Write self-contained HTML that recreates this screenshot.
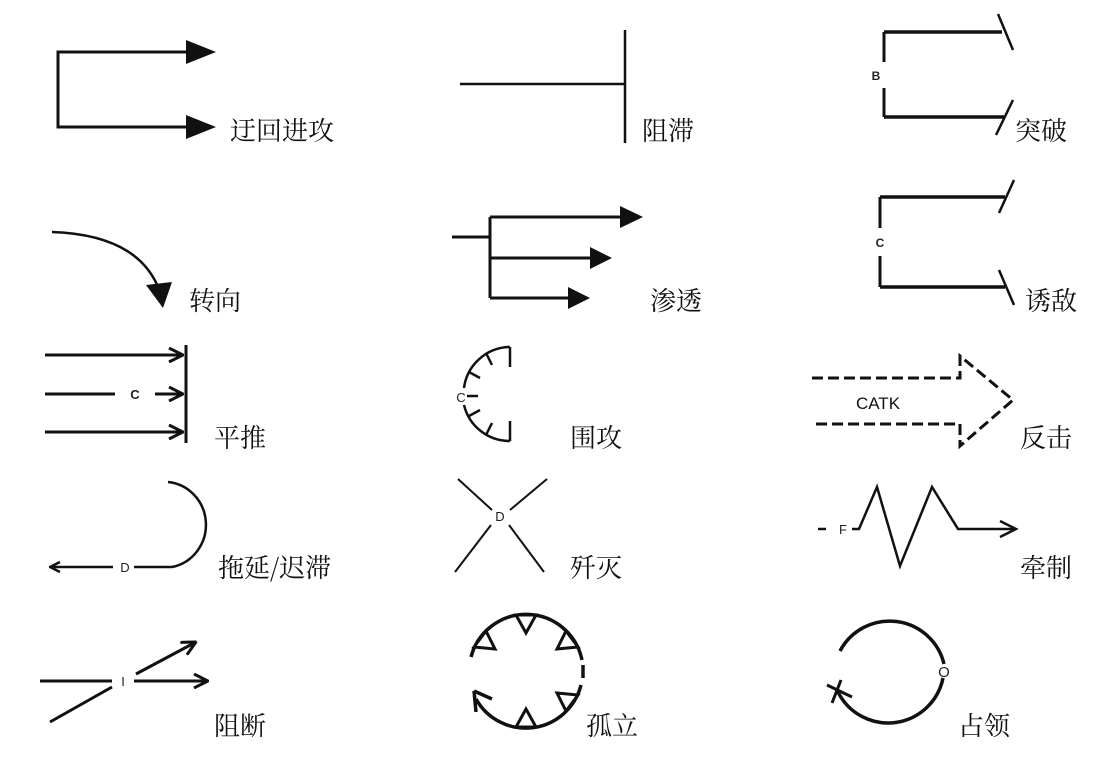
<!DOCTYPE html>
<html><head><meta charset="utf-8"><style>
html,body{margin:0;padding:0;background:#fff;}
svg{display:block}
.l{font-family:"Noto Serif CJK SC","Liberation Serif",serif;font-size:26px;fill:#111}
.s{font-family:"Liberation Sans",sans-serif;font-weight:bold;fill:#222}
</style></head><body>
<svg width="1109" height="767" viewBox="0 0 1109 767" xmlns="http://www.w3.org/2000/svg">
<defs>
<marker id="o" viewBox="0 0 12 12" refX="11" refY="6" markerWidth="12" markerHeight="12" markerUnits="userSpaceOnUse" orient="auto"><path d="M1,1 L11,6 L1,11" fill="none" stroke="#111" stroke-width="2.5"/></marker>
<marker id="ob" viewBox="0 0 16 16" refX="15" refY="8" markerWidth="16" markerHeight="16" markerUnits="userSpaceOnUse" orient="auto"><path d="M1,1 L15,8 L1,15" fill="none" stroke="#111" stroke-width="3"/></marker>
</defs>
<g stroke="#111" fill="none" stroke-width="3">
<!-- 迂回进攻 -->
<path d="M188,52 L58,52 L58,127 L188,127"/>
<path d="M186,40 L216,52 L186,64Z M186,115 L216,127 L186,139Z" fill="#111" stroke="none"/>
<!-- 阻滞 -->
<path d="M460,84 L625,84 M625,30 L625,143" stroke-width="2.5"/>
<!-- 突破 -->
<path d="M884,32 L884,62 M884,88 L884,117"/>
<path d="M884,32 L1002,32 M884,117 L1004,117" stroke-width="3.5"/>
<path d="M998,14 L1013,50 M1013,100 L996,135" stroke-width="2.5"/>
<!-- 诱敌 -->
<path d="M880,197 L880,228 M880,256 L880,287"/>
<path d="M880,197 L1005,197 M880,287 L1005,287" stroke-width="3.5"/>
<path d="M1014,180 L999,213 M999,270 L1014,305" stroke-width="2.5"/>
<!-- 转向 -->
<path d="M52,232 Q140,235 160,292" stroke-width="2.5"/>
<path d="M146,285 L172,282 L163,308Z" fill="#111" stroke="none"/>
<!-- 渗透 -->
<path d="M452,237 L490,237 M490,217 L490,298 M490,217 L622,217 M490,258 L592,258 M490,298 L570,298"/>
<path d="M620,206 L643,217 L620,228Z M590,247 L612,258 L590,269Z M568,287 L590,298 L568,309Z" fill="#111" stroke="none"/>
<!-- 平推 -->
<path d="M45,355 L183,355" marker-end="url(#ob)"/>
<path d="M45,394 L115,394"/>
<path d="M155,394 L183,394" marker-end="url(#ob)"/>
<path d="M45,432 L183,432" marker-end="url(#ob)"/>
<path d="M186,345 L186,443"/>
<!-- 围攻 -->
<path d="M510,347 A47,47 0 0 0 464,388 M464,405 A47,47 0 0 0 510,441" stroke-width="2.5"/>
<path d="M510,347 L510,367 M510,441 L510,421" stroke-width="2.5"/>
<path d="M486,353 L492,365 M469,372 L480,378 M467,396 L478,396 M469,416 L480,410 M486,435 L492,423" stroke-width="2.5"/>
<!-- 反击 -->
<path d="M812,378 L960,378 L960,356 L1013,400 L960,446 L960,424 L812,424" stroke-width="3" stroke-dasharray="11,5"/>
<!-- 拖延 -->
<path d="M168,482 A42,43 0 0 1 172,567 L134,567" stroke-width="2.5"/>
<path d="M113,567 L50,567" stroke-width="2.5" marker-end="url(#o)"/>
<!-- 歼灭 -->
<path d="M458,479 L492,510 M509,525 L544,572 M547,479 L510,510 M491,525 L455,572" stroke-width="2"/>
<!-- 牵制 -->
<path d="M818,529 L826,529 M852,529 L859,529 L877,487 L900,566 L932,487 L958,529 L1016,529" stroke-width="2.5"/>
<path d="M1000,521 L1016,529 L1000,537" stroke-width="2.5"/>
<!-- 阻断 -->
<path d="M40,681 L112,681 M50,722 L112,687" stroke-width="3"/>
<path d="M134,681 L208,681" stroke-width="3" marker-end="url(#ob)"/>
<path d="M136,674 L196,642" stroke-width="3" marker-end="url(#ob)"/>
<!-- 孤立 -->
<path d="M471,657 A57,57 0 0 1 582,660 M583,665 L583,678 M581,685 A57,57 0 0 1 476,699" stroke-width="3.5"/>
<path d="M474,691 L476,712 M474,691 L492,699" stroke-width="3.5"/>
<path d="M516,615 L526,633 L536,615 Z M486,631 L495,649 L474,647 Z M566,631 L557,649 L578,647 Z M578,695 L557,693 L566,711 Z M516,727 L526,709 L536,727 Z" fill="#fff" stroke-width="3"/>
<!-- 占领 -->
<path d="M840,651 A56,56 0 0 1 944,664 M943,678 A56,56 0 0 1 838,692" stroke-width="3.5"/>
<path d="M827,685 L852,697 M841,680 L832,703" stroke-width="3"/>
</g>
<g class="s">
<text x="876" y="80" font-size="12" text-anchor="middle">B</text>
<text x="880" y="247" font-size="12" text-anchor="middle">C</text>
<text x="135" y="399" font-size="13" text-anchor="middle">C</text>
<text x="461" y="402" font-size="13" text-anchor="middle" font-weight="normal">C</text>
<text x="878" y="409" font-size="17" text-anchor="middle" font-weight="normal" style="fill:#111">CATK</text>
<text x="125" y="572" font-size="13" text-anchor="middle" font-weight="normal">D</text>
<text x="500" y="521" font-size="13" text-anchor="middle" font-weight="normal">D</text>
<text x="843" y="534" font-size="13" text-anchor="middle" font-weight="normal">F</text>
<text x="123" y="686" font-size="13" text-anchor="middle" font-weight="normal">I</text>
<text x="944" y="677" font-size="15" text-anchor="middle" font-weight="normal">O</text>
</g>
<g class="l">
<text x="230" y="140">迂回进攻</text>
<text x="642" y="140">阻滞</text>
<text x="1015" y="140">突破</text>
<text x="189" y="310">转向</text>
<text x="650" y="310">渗透</text>
<text x="1025" y="310">诱敌</text>
<text x="214" y="447">平推</text>
<text x="570" y="447">围攻</text>
<text x="1020" y="447">反击</text>
<text x="218" y="577">拖延/迟滞</text>
<text x="570" y="577">歼灭</text>
<text x="1020" y="577">牵制</text>
<text x="214" y="735">阻断</text>
<text x="586" y="735">孤立</text>
<text x="958" y="735">占领</text>
</g>
</svg>
</body></html>
